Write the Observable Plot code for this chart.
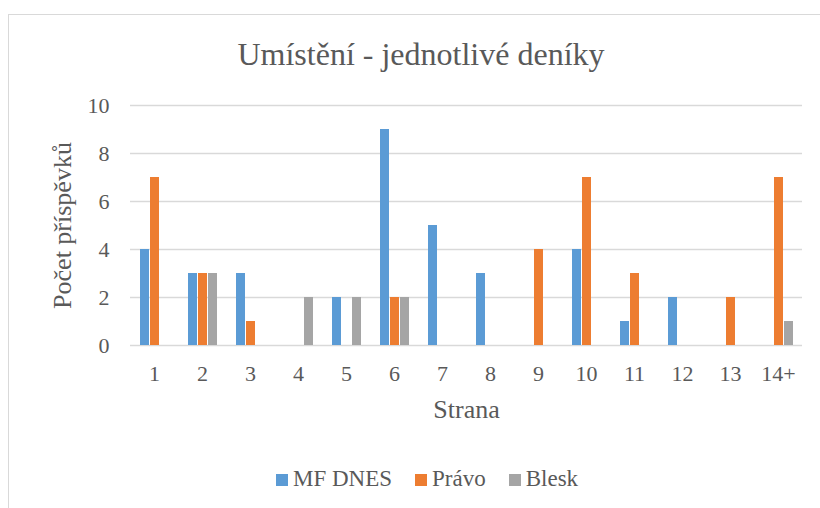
<!DOCTYPE html>
<html>
<head>
<meta charset="utf-8">
<script src="https://cdn.jsdelivr.net/npm/d3@7"></script>
<script src="https://cdn.jsdelivr.net/npm/@observablehq/plot@0.6"></script>
<style>
  html, body { margin: 0; padding: 0; background: #fff; }
  #wrap { position: relative; width: 820px; height: 508px; overflow: hidden; font-family: "Liberation Serif", Tinos, "Times New Roman", Times, "Nimbus Roman", "DejaVu Serif", serif; color: #595959; }
  #frame { position: absolute; left: 8px; top: 14px; width: 900px; height: 600px; border-top: 1.5px solid #d9d9d9; border-left: 1.5px solid #d9d9d9; }
  #chart { position: absolute; left: 0; top: 0; }
  #title { position: absolute; left: 0; width: 842px; top: 38px; text-align: center; font-size: 32px; line-height: 32px; white-space: nowrap; }
  #legend { position: absolute; left: 276px; top: 467px; display: flex; align-items: flex-start; font-size: 23px; line-height: 23px; white-space: nowrap; }
  #legend .item { display: flex; align-items: flex-start; margin-right: 23px; }
  #legend .sw { width: 12px; height: 12px; margin-top: 7px; margin-right: 5px; }
  #chart svg, #chart svg text { font-family: "Liberation Serif", Tinos, "Times New Roman", Times, "Nimbus Roman", "DejaVu Serif", serif; }
  g[aria-label="fx-axis label"] text, g[aria-label="y-axis label"] text { font-size: 26px; }
</style>
</head>
<body>
<div id="wrap">
  <div id="frame"></div>
  <div id="chart"></div>
  <div id="title">Umístění - jednotlivé deníky</div>
  <div id="legend"></div>
</div>
<script>
const categories = ["1","2","3","4","5","6","7","8","9","10","11","12","13","14+"];
const series = ["MF DNES","Právo","Blesk"];
const colors = ["#5B9BD5","#ED7D31","#A5A5A5"];
const mfDnes = [4,3,3,0,2,9,5,3,0,4,1,2,0,0];
const pravo  = [7,3,1,0,0,2,0,0,4,7,3,0,2,7];
const blesk  = [0,3,0,2,2,2,0,0,0,0,0,0,0,1];
const yTicks = [0,2,4,6,8,10];

const valuesBySeries = [mfDnes, pravo, blesk];
const table = categories.flatMap((c, i) =>
  series.map((s, j) => ({cat: c, series: s, value: valuesBySeries[j][i]}))
).filter(d => d.value > 0);

const chart = Plot.plot({
  width: 820,
  height: 508,
  marginTop: 105,
  marginBottom: 163,
  marginLeft: 125,
  marginRight: 14,
  style: {fontSize: "22px", color: "#595959", background: "transparent", overflow: "visible"},
  fx: {domain: categories, padding: 0, axis: "bottom", label: "Strana", labelAnchor: "center", labelOffset: 72, labelArrow: "none", tickSize: 0, tickPadding: 20},
  x: {domain: series, paddingInner: 0.143, paddingOuter: 0.888, axis: null},
  y: {domain: [0, 10], ticks: yTicks, tickSize: 0, tickPadding: 21, label: "Počet příspěvků", labelAnchor: "center", labelOffset: 78, labelArrow: "none"},
  color: {domain: series, range: colors},
  marks: [
    Plot.ruleY(yTicks, {stroke: "#d9d9d9", strokeWidth: 1.3}),
    Plot.barY(table, {fx: "cat", x: "series", y: "value", fill: "series"})
  ]
});
document.getElementById("chart").appendChild(chart);

const legend = document.getElementById("legend");
series.forEach((s, i) => {
  const item = document.createElement("div");
  item.className = "item";
  const sw = document.createElement("span");
  sw.className = "sw";
  sw.style.background = colors[i];
  const label = document.createElement("span");
  label.textContent = s;
  item.appendChild(sw);
  item.appendChild(label);
  legend.appendChild(item);
});
</script>
</body>
</html>
